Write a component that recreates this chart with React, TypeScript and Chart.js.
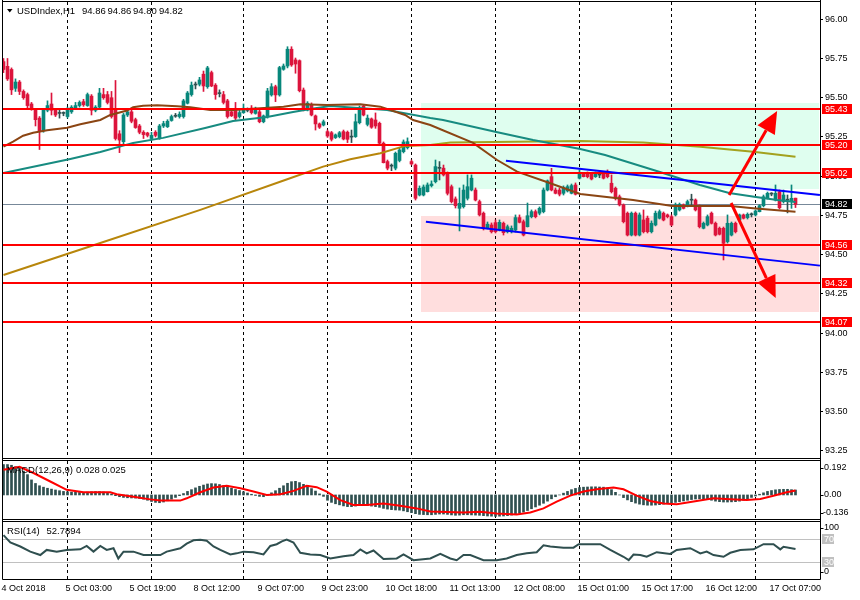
import React, { useEffect, useRef } from 'react';
import { Chart, registerables } from 'chart.js';

Chart.register(...registerables);

const FONT_FAMILY = '"Liberation Sans", Arial, sans-serif';

// ---------------- data ----------------
const symbolTitle = 'USDIndex,H1';

const opens = [
  95.73, 95.70, 95.68, 95.56, 95.60, 95.54, 95.52, 95.46, 95.43, 95.37,
  95.29, 95.42, 95.46, 95.42, 95.40, 95.40, 95.38, 95.41, 95.43, 95.45,
  95.475, 95.45, 95.51, 95.42, 95.44, 95.52, 95.52, 95.50, 95.43, 95.27,
  95.22, 95.39, 95.41, 95.36, 95.32, 95.28, 95.275, 95.24, 95.28, 95.245,
  95.32, 95.315, 95.355, 95.382, 95.38, 95.38, 95.465, 95.52, 95.581, 95.586,
  95.65, 95.57, 95.66, 95.58, 95.528, 95.52, 95.48, 95.41, 95.43, 95.38,
  95.405, 95.421, 95.433, 95.40, 95.41, 95.347, 95.38, 95.518, 95.57, 95.518,
  95.681, 95.702, 95.809, 95.741, 95.736, 95.549, 95.422, 95.454, 95.384, 95.333,
  95.326, 95.284, 95.277, 95.246, 95.252, 95.284, 95.28, 95.251, 95.252, 95.341,
  95.447, 95.33, 95.365, 95.358, 95.337, 95.21, 95.093, 95.066, 95.051, 95.10,
  95.156, 95.182, 95.093, 95.071, 94.88, 94.88, 94.901, 94.94, 94.965, 95.052,
  95.051, 95.012, 94.933, 94.855, 94.795, 94.806, 94.859, 94.912, 94.912, 94.838,
  94.764, 94.672, 94.689, 94.704, 94.657, 94.70, 94.646, 94.646, 94.657, 94.736,
  94.71, 94.678, 94.742, 94.774, 94.764, 94.774, 94.912, 94.997, 94.912, 94.912,
  94.891, 94.906, 94.891, 94.944, 94.987, 95.012, 95.019, 95.012, 94.997, 95.009,
  95.019, 95.029, 94.955, 94.923, 94.869, 94.817, 94.764, 94.625, 94.764, 94.625,
  94.721, 94.732, 94.646, 94.689, 94.732, 94.764, 94.753, 94.742, 94.753, 94.785,
  94.817, 94.812, 94.849, 94.848, 94.806, 94.668, 94.689, 94.764, 94.70, 94.668,
  94.668, 94.583, 94.625, 94.70, 94.721, 94.753, 94.736, 94.756, 94.753, 94.774,
  94.812, 94.859, 94.888, 94.848, 94.901, 94.838, 94.849, 94.838, 94.86,
];

const highs = [
  95.75, 95.75, 95.69, 95.62, 95.61, 95.55, 95.53, 95.47, 95.43, 95.38,
  95.43, 95.48, 95.53, 95.43, 95.42, 95.41, 95.44, 95.45, 95.47, 95.48,
  95.49, 95.53, 95.52, 95.45, 95.56, 95.56, 95.54, 95.54, 95.61, 95.29,
  95.40, 95.43, 95.42, 95.37, 95.33, 95.29, 95.28, 95.28, 95.29, 95.33,
  95.35, 95.36, 95.39, 95.40, 95.41, 95.49, 95.54, 95.60, 95.60, 95.63,
  95.67, 95.70, 95.67, 95.59, 95.55, 95.54, 95.49, 95.42, 95.47, 95.42,
  95.46, 95.435, 95.45, 95.44, 95.42, 95.39, 95.56, 95.59, 95.58, 95.70,
  95.715, 95.825, 95.825, 95.753, 95.741, 95.562, 95.475, 95.467, 95.39, 95.339,
  95.358, 95.294, 95.285, 95.269, 95.285, 95.294, 95.288, 95.294, 95.396, 95.447,
  95.454, 95.39, 95.371, 95.403, 95.345, 95.218, 95.103, 95.078, 95.154, 95.18,
  95.231, 95.244, 95.103, 95.078, 94.938, 94.944, 94.957, 94.97, 95.103, 95.093,
  95.071, 95.027, 94.944, 94.868, 94.925, 94.944, 95.008, 95.008, 94.925, 94.848,
  94.772, 94.708, 94.702, 94.721, 94.721, 94.708, 94.689, 94.683, 94.753, 94.753,
  94.721, 94.829, 94.785, 94.785, 94.804, 94.925, 94.976, 95.05, 94.925, 94.925,
  94.938, 94.944, 94.95, 94.957, 95.04, 95.021, 95.027, 95.021, 95.027, 95.027,
  95.027, 95.04, 95.008, 94.931, 94.88, 94.823, 94.772, 94.772, 94.772, 94.766,
  94.785, 94.746, 94.715, 94.778, 94.785, 94.772, 94.759, 94.753, 94.829, 94.829,
  94.823, 94.848, 94.885, 94.855, 94.817, 94.708, 94.753, 94.772, 94.708, 94.676,
  94.676, 94.753, 94.708, 94.708, 94.759, 94.759, 94.766, 94.766, 94.785, 94.817,
  94.88, 94.899, 94.895, 94.944, 94.912, 94.912, 94.88, 94.944, 94.86,
];

const lows = [
  95.66, 95.61, 95.52, 95.54, 95.52, 95.49, 95.43, 95.42, 95.32, 95.17,
  95.28, 95.41, 95.39, 95.38, 95.37, 95.385, 95.37, 95.40, 95.43, 95.44,
  95.445, 95.445, 95.39, 95.41, 95.43, 95.49, 95.46, 95.37, 95.23, 95.15,
  95.20, 95.38, 95.34, 95.305, 95.27, 95.24, 95.25, 95.23, 95.25, 95.235,
  95.31, 95.31, 95.35, 95.375, 95.37, 95.37, 95.46, 95.51, 95.556, 95.575,
  95.54, 95.56, 95.57, 95.49, 95.505, 95.46, 95.37, 95.38, 95.36, 95.37,
  95.40, 95.41, 95.396, 95.395, 95.34, 95.34, 95.37, 95.51, 95.475, 95.51,
  95.675, 95.69, 95.70, 95.656, 95.537, 95.416, 95.416, 95.384, 95.294, 95.304,
  95.32, 95.247, 95.224, 95.24, 95.244, 95.231, 95.214, 95.214, 95.247, 95.333,
  95.384, 95.32, 95.305, 95.305, 95.205, 95.084, 95.04, 95.035, 95.04, 95.091,
  95.148, 95.173, 95.071, 94.848, 94.874, 94.874, 94.899, 94.931, 94.957, 94.976,
  95.001, 94.88, 94.829, 94.797, 94.651, 94.797, 94.848, 94.906, 94.842, 94.746,
  94.657, 94.664, 94.638, 94.638, 94.651, 94.625, 94.638, 94.638, 94.644, 94.702,
  94.619, 94.676, 94.734, 94.734, 94.753, 94.766, 94.906, 94.906, 94.887, 94.874,
  94.88, 94.899, 94.887, 94.88, 94.982, 94.995, 94.989, 94.976, 94.992, 94.99,
  94.982, 94.989, 94.893, 94.848, 94.81, 94.702, 94.619, 94.619, 94.619, 94.619,
  94.638, 94.638, 94.638, 94.683, 94.727, 94.715, 94.734, 94.683, 94.746, 94.778,
  94.791, 94.804, 94.817, 94.778, 94.67, 94.664, 94.683, 94.695, 94.619, 94.625,
  94.466, 94.574, 94.619, 94.638, 94.715, 94.727, 94.727, 94.74, 94.746, 94.772,
  94.804, 94.855, 94.875, 94.842, 94.791, 94.829, 94.766, 94.795, 94.80,
];

const closes = [
  95.68, 95.62, 95.55, 95.60, 95.54, 95.50, 95.45, 95.43, 95.36, 95.29,
  95.42, 95.45, 95.42, 95.39, 95.40, 95.40, 95.42, 95.44, 95.45, 95.47,
  95.455, 95.52, 95.42, 95.44, 95.53, 95.50, 95.47, 95.38, 95.24, 95.23,
  95.39, 95.41, 95.35, 95.31, 95.28, 95.265, 95.26, 95.26, 95.26, 95.32,
  95.335, 95.35, 95.38, 95.386, 95.395, 95.48, 95.53, 95.58, 95.585, 95.613,
  95.575, 95.69, 95.575, 95.52, 95.526, 95.47, 95.38, 95.385, 95.37, 95.405,
  95.433, 95.419, 95.405, 95.426, 95.347, 95.384, 95.543, 95.57, 95.518, 95.692,
  95.702, 95.809, 95.709, 95.715, 95.545, 95.426, 95.465, 95.39, 95.333, 95.312,
  95.347, 95.256, 95.235, 95.263, 95.277, 95.237, 95.235, 95.249, 95.347, 95.433,
  95.39, 95.37, 95.312, 95.32, 95.21, 95.086, 95.051, 95.064, 95.146, 95.167,
  95.218, 95.22, 95.078, 94.859, 94.923, 94.931, 94.944, 94.95, 95.061, 95.05,
  95.008, 94.891, 94.838, 94.812, 94.827, 94.912, 94.933, 94.987, 94.848, 94.753,
  94.668, 94.694, 94.646, 94.646, 94.706, 94.64, 94.678, 94.668, 94.736, 94.706,
  94.625, 94.748, 94.774, 94.742, 94.795, 94.912, 94.97, 94.912, 94.891, 94.885,
  94.927, 94.933, 94.94, 94.885, 95.019, 94.997, 94.997, 94.982, 95.019, 95.007,
  94.987, 94.997, 94.901, 94.859, 94.817, 94.71, 94.625, 94.764, 94.625, 94.753,
  94.646, 94.646, 94.70, 94.764, 94.774, 94.721, 94.742, 94.689, 94.817, 94.821,
  94.795, 94.838, 94.847, 94.785, 94.678, 94.70, 94.742, 94.70, 94.625, 94.63,
  94.572, 94.70, 94.70, 94.646, 94.753, 94.732, 94.757, 94.754, 94.778, 94.812,
  94.869, 94.891, 94.886, 94.891, 94.799, 94.88, 94.847, 94.859, 94.82,
];

// moving averages: [bar, price]
const maBrown = [
  [0, 95.188], [2.4, 95.22], [4.9, 95.258], [7.4, 95.277], [10.9, 95.293], [15.9, 95.309],
  [19.2, 95.331], [24.2, 95.358], [26.7, 95.39], [30.9, 95.418], [32.4, 95.439], [34.9, 95.449],
  [38.4, 95.452], [43.4, 95.446], [46.7, 95.439], [51.7, 95.422], [57.4, 95.422], [70, 95.443],
  [74.2, 95.458], [80.9, 95.454], [89.2, 95.458], [94.2, 95.443], [100.4, 95.39], [102.4, 95.358],
  [106.7, 95.326], [117.4, 95.212], [123.4, 95.103], [128.4, 95.029], [136.7, 94.955],
  [144.2, 94.887], [157.4, 94.848], [167.2, 94.81], [181.7, 94.81], [187.4, 94.796], [198, 94.774],
];
const maTeal = [
  [0, 95.02], [16.7, 95.11], [24.2, 95.154], [32.4, 95.212], [39.9, 95.244], [50.4, 95.307],
  [57.4, 95.352], [65.9, 95.377], [72.4, 95.409], [76.7, 95.428], [81.7, 95.447], [95.9, 95.422],
  [106.7, 95.371], [109.9, 95.358], [123.2, 95.282], [132.4, 95.231], [144.2, 95.173],
  [150.4, 95.135], [164.1, 95.027], [174.1, 94.944], [181.4, 94.893], [188.1, 94.868],
  [193.4, 94.848], [198, 94.836],
];
const maGold = [
  [0, 94.37], [24.2, 94.574], [49.2, 94.785], [70.4, 94.976], [79.9, 95.061], [86.7, 95.108],
  [94.2, 95.146], [100.4, 95.193], [106.7, 95.199], [111.7, 95.215], [144.2, 95.224],
  [159.9, 95.214], [174.2, 95.188], [187.4, 95.156], [198, 95.124],
];

const levels = [95.43, 95.2, 95.02, 94.56, 94.32, 94.07];
const currentPrice = 94.82;
const priceTicks = [96.0, 95.75, 95.5, 95.25, 95.0, 94.75, 94.5, 94.25, 94.0, 93.75, 93.5, 93.25];

// zones: [start bar, upper price, lower price]
const zoneBuy = [104.4, 95.465, 94.918];
const zoneSell = [104.4, 94.746, 94.136];
// trend lines: [bar, price] pairs
const trendUpper = [[125.6, 95.099], [204.1, 94.88]];
const trendLower = [[105.6, 94.71], [204.1, 94.43]];
// arrows: start, tip
const arrowUp = [[181.4, 94.88], [193.4, 95.415]];
const arrowDown = [[181.9, 94.829], [193.05, 94.223]];

const dayGridBars = [16, 37, 60, 81, 102, 123, 144, 167, 188];
const timeLabelBars = [0, 16, 32, 48, 64, 80, 96, 112, 128, 144, 160, 176, 192];
const timeLabels = [
  '4 Oct 2018', '5 Oct 03:00', '5 Oct 19:00', '8 Oct 12:00', '9 Oct 07:00', '9 Oct 23:00',
  '10 Oct 18:00', '11 Oct 13:00', '12 Oct 08:00', '15 Oct 01:00', '15 Oct 17:00',
  '16 Oct 12:00', '17 Oct 07:00',
];

const macdHist = [
  0.172, 0.172, 0.168, 0.160, 0.150, 0.135, 0.115, 0.085, 0.065, 0.052,
  0.044, 0.038, 0.033, 0.028, 0.024, 0.020, 0.018, 0.016, 0.015, 0.014,
  0.014, 0.016, 0.018, 0.019, 0.019, 0.017, 0.012, 0.005, -0.004, -0.010,
  -0.014, -0.016, -0.017, -0.018, -0.020, -0.024, -0.030, -0.037, -0.042, -0.044,
  -0.040, -0.033, -0.024, -0.014, -0.004, 0.008, 0.020, 0.030, 0.040, 0.049,
  0.056, 0.062, 0.064, 0.063, 0.059, 0.053, 0.046, 0.038, 0.031, 0.025,
  0.018, 0.011, 0.004, -0.003, -0.008, -0.010, -0.002, 0.012, 0.024, 0.038,
  0.052, 0.066, 0.075, 0.077, 0.070, 0.060, 0.048, 0.036, 0.022, 0.006,
  -0.008, -0.030, -0.042, -0.050, -0.056, -0.062, -0.066, -0.066, -0.063, -0.058,
  -0.058, -0.060, -0.063, -0.066, -0.070, -0.076, -0.080, -0.083, -0.085, -0.086,
  -0.090, -0.095, -0.100, -0.106, -0.110, -0.111, -0.112, -0.112, -0.110, -0.108,
  -0.108, -0.110, -0.113, -0.115, -0.114, -0.112, -0.112, -0.113, -0.114, -0.115,
  -0.117, -0.119, -0.120, -0.121, -0.120, -0.119, -0.117, -0.114, -0.110, -0.104,
  -0.097, -0.088, -0.078, -0.068, -0.058, -0.047, -0.035, -0.022, -0.010, 0.000,
  0.010, 0.020, 0.030, 0.037, 0.042, 0.044, 0.045, 0.046, 0.046, 0.045,
  0.044, 0.040, 0.030, 0.015, 0.000, -0.015, -0.028, -0.038, -0.046, -0.052,
  -0.056, -0.058, -0.058, -0.057, -0.055, -0.052, -0.048, -0.045, -0.042, -0.038,
  -0.034, -0.030, -0.026, -0.023, -0.022, -0.022, -0.025, -0.030, -0.035, -0.038,
  -0.040, -0.040, -0.039, -0.038, -0.035, -0.030, -0.022, -0.014, -0.006, 0.004,
  0.012, 0.020, 0.025, 0.029, 0.031, 0.032, 0.032, 0.030, 0.028,
];
const macdSignal = [
  [0, 0.143], [4, 0.159], [7.5, 0.124], [11.7, 0.076], [15.8, 0.029], [20, 0.015], [26.7, 0.015],
  [28.3, 0.004], [32.5, -0.01], [36.7, -0.025], [39.2, -0.032], [44.2, -0.032], [45.8, -0.019],
  [49.2, 0.015], [52.5, 0.042], [55.8, 0.052], [59.2, 0.038], [62.5, 0.019], [65.8, 0],
  [69.2, 0.004], [72.5, 0.023], [75.8, 0.052], [78.3, 0.044], [80.8, 0.019], [84.2, -0.029],
  [87.5, -0.057], [90.8, -0.057], [95, -0.048], [99.2, -0.061], [103.3, -0.076], [106.7, -0.094],
  [115, -0.099], [119.2, -0.095], [123.3, -0.105], [128.3, -0.111], [131.7, -0.099], [135, -0.076],
  [138.3, -0.038], [141.7, -0.004], [145, 0.019], [148.3, 0.032], [152.5, 0.042], [155, 0.032],
  [158.3, -0.004], [161.7, -0.034], [165, -0.048], [168.3, -0.052], [173.3, -0.034],
  [177.5, -0.019], [181.7, -0.025], [185.8, -0.029], [189.2, -0.023], [192.5, -0.004],
  [195.8, 0.015], [198, 0.025],
];
const macdTop = 0.192;
const macdBottom = -0.136;

const rsiPoints = [
  [0, 77], [1.7, 64], [4.2, 57], [6.7, 48], [9.2, 42], [10.8, 51], [13.3, 48], [15.8, 51],
  [19.2, 52], [20.8, 58], [22.5, 48], [24.2, 58], [25.8, 51], [27.5, 54], [28.7, 36], [30, 48],
  [32.5, 48], [35, 42], [39.2, 42], [40.8, 48], [44.2, 54], [45.8, 62], [47.5, 68], [49.2, 69],
  [50.8, 67], [52.5, 57], [54.2, 51], [56.7, 43], [58.3, 45], [60, 48], [62.5, 47], [65, 43],
  [66.7, 58], [68.3, 61], [69.6, 66], [70.8, 69], [72.5, 64], [74.2, 46], [76.7, 43], [79.2, 42],
  [81.7, 36], [85, 40], [87.5, 42], [89.2, 52], [90.8, 45], [92.5, 50], [95, 35], [98.3, 36],
  [100, 43], [102.5, 33], [106.7, 36], [109.2, 44], [111.7, 36], [113.3, 33], [115, 42],
  [116.7, 42], [120, 33], [123.3, 33], [125.8, 36], [128.3, 42], [130.8, 45], [133.3, 47],
  [135, 59], [136.7, 57], [140, 55], [142.5, 55], [143.8, 61], [149.2, 61], [151.7, 51],
  [155, 39], [156.3, 33], [157.5, 43], [159.2, 42], [160.8, 39], [163.3, 47], [166.7, 44],
  [168.3, 51], [171.7, 54], [174.2, 45], [175.8, 48], [177.5, 42], [180, 39], [181.7, 46],
  [184.2, 51], [187.5, 52], [190, 61], [192.5, 61], [194.2, 52], [195, 56.6], [198, 52.7894],
];
const rsiLevels = [70, 30];

// ---------------- styling ----------------
const BULL = '#07877B';
const BEAR = '#DC143C';
const DOJI = '#2F4F4F';
const BROWN = '#8B4513';
const TEAL_MA = '#178B80';
const GOLD = '#B8860B';
const OLIVE = '#A3A11E';
const X_MIN = -0.375;
const X_MAX = 204.125;
const Y_MIN = 93.204;
const Y_MAX = 96.11;

const AX_FONT = { family: FONT_FAMILY, size: 9 };
const txtFont = (s = 9) => `${s}px ${FONT_FAMILY}`;
const toXY = (arr: number[][]) => arr.map(([x, y]) => ({ x, y }));

function drawVGrid(chart: any) {
  const { ctx, chartArea: a, scales } = chart;
  const x = scales.x;
  ctx.save();
  ctx.strokeStyle = '#000';
  ctx.lineWidth = 1;
  ctx.setLineDash([3, 3]);
  for (const b of dayGridBars) {
    const px = Math.floor(x.getPixelForValue(b)) + 0.5;
    ctx.beginPath();
    ctx.moveTo(px, a.top);
    ctx.lineTo(px, a.bottom);
    ctx.stroke();
  }
  ctx.restore();
}

function drawFrame(chart: any, lineBottom: number) {
  const { ctx, chartArea: a } = chart;
  const l = Math.floor(a.left) + 0.5;
  const r = Math.floor(a.right) + 0.5;
  const t = Math.round(a.top) - 0.5;
  const b = Math.round(a.bottom) + 0.5;
  ctx.save();
  ctx.strokeStyle = '#000';
  ctx.lineWidth = 1;
  ctx.setLineDash([]);
  ctx.beginPath();
  ctx.moveTo(l, t); ctx.lineTo(r, t);
  ctx.moveTo(l, b); ctx.lineTo(r, b);
  ctx.moveTo(l, 0); ctx.lineTo(l, lineBottom < 0 ? b : lineBottom);
  ctx.moveTo(r, 0); ctx.lineTo(r, lineBottom < 0 ? b : lineBottom);
  ctx.stroke();
  ctx.restore();
}

function axisText(ctx: any, text: string, x: number, y: number, color = '#000') {
  ctx.fillStyle = color;
  ctx.font = txtFont(9);
  ctx.textAlign = 'left';
  ctx.textBaseline = 'middle';
  ctx.fillText(text, x, y);
}

function tickMark(ctx: any, x: number, y: number) {
  ctx.strokeStyle = '#000';
  ctx.lineWidth = 1;
  ctx.beginPath();
  ctx.moveTo(x, Math.round(y) + 0.5);
  ctx.lineTo(x + 3, Math.round(y) + 0.5);
  ctx.stroke();
}

function priceBox(ctx: any, xLeft: number, yMid: number, text: string, bg: string, fg: string, w = 30) {
  const yy = Math.round(yMid);
  ctx.fillStyle = bg;
  ctx.fillRect(xLeft, yy - 5, w, 10);
  axisText(ctx, text, xLeft + 3, yy + 0.5, fg);
}

function drawArrow(ctx: any, x1: number, y1: number, x2: number, y2: number, color: string) {
  const ang = Math.atan2(y2 - y1, x2 - x1);
  const len = 22;
  const half = 10;
  const bx = x2 - len * Math.cos(ang);
  const by = y2 - len * Math.sin(ang);
  ctx.strokeStyle = color;
  ctx.fillStyle = color;
  ctx.lineWidth = 3;
  ctx.setLineDash([]);
  ctx.beginPath();
  ctx.moveTo(x1, y1);
  ctx.lineTo(bx, by);
  ctx.stroke();
  const nx = -Math.sin(ang);
  const ny = Math.cos(ang);
  ctx.beginPath();
  ctx.moveTo(x2, y2);
  ctx.lineTo(bx + nx * half, by + ny * half);
  ctx.lineTo(bx - nx * half, by - ny * half);
  ctx.closePath();
  ctx.fill();
}

function clipArea(chart: any) {
  const { ctx, chartArea: a } = chart;
  ctx.beginPath();
  ctx.rect(a.left, a.top, a.right - a.left, a.bottom - a.top);
  ctx.clip();
}

const mainPlugin = {
  id: 'mainDecor',
  beforeDatasetsDraw(chart: any) {
    const { ctx, chartArea: a, scales } = chart;
    const { x, y } = scales;
    ctx.save();
    clipArea(chart);
    const zone = (z: number[], color: string) => {
      const x0 = x.getPixelForValue(z[0]);
      const y0 = y.getPixelForValue(z[1]);
      const y1 = y.getPixelForValue(z[2]);
      ctx.fillStyle = color;
      ctx.fillRect(Math.round(x0), Math.round(y0), a.right - 1 - Math.round(x0), Math.round(y1) - Math.round(y0));
    };
    zone(zoneBuy, '#DFFEEF');
    zone(zoneSell, '#FFDEDE');
    const py = Math.round(y.getPixelForValue(currentPrice)) + 0.5;
    ctx.strokeStyle = '#778899';
    ctx.lineWidth = 1;
    ctx.beginPath();
    ctx.moveTo(a.left, py);
    ctx.lineTo(a.right, py);
    ctx.stroke();
    ctx.restore();
    drawVGrid(chart);
  },
  afterDatasetsDraw(chart: any) {
    const { ctx, chartArea: a, scales } = chart;
    const { x, y } = scales;
    ctx.save();
    clipArea(chart);
    ctx.strokeStyle = '#FF0000';
    ctx.lineWidth = 2;
    for (const lv of levels) {
      const py = Math.round(y.getPixelForValue(lv));
      ctx.beginPath();
      ctx.moveTo(a.left, py);
      ctx.lineTo(a.right, py);
      ctx.stroke();
    }
    ctx.strokeStyle = '#0000FF';
    ctx.lineWidth = 2;
    for (const t of [trendUpper, trendLower]) {
      ctx.beginPath();
      ctx.moveTo(x.getPixelForValue(t[0][0]), y.getPixelForValue(t[0][1]));
      ctx.lineTo(x.getPixelForValue(t[1][0]), y.getPixelForValue(t[1][1]));
      ctx.stroke();
    }
    for (const ar of [arrowUp, arrowDown]) {
      drawArrow(
        ctx,
        x.getPixelForValue(ar[0][0]), y.getPixelForValue(ar[0][1]),
        x.getPixelForValue(ar[1][0]), y.getPixelForValue(ar[1][1]),
        '#FF0000'
      );
    }
    ctx.restore();
  },
  afterDraw(chart: any) {
    const { ctx, chartArea: a, scales } = chart;
    const { y } = scales;
    drawFrame(chart, chart.height);
    ctx.save();
    const bx = Math.floor(a.right) + 2;
    for (const lv of levels) {
      priceBox(ctx, bx, y.getPixelForValue(lv), lv.toFixed(2), '#FF0000', '#FFFFFF');
    }
    priceBox(ctx, bx, y.getPixelForValue(currentPrice), currentPrice.toFixed(2), '#000000', '#FFFFFF');
    // title
    ctx.fillStyle = '#000';
    ctx.beginPath();
    ctx.moveTo(7, 9);
    ctx.lineTo(12.5, 9);
    ctx.lineTo(9.75, 12.5);
    ctx.closePath();
    ctx.fill();
    const n = opens.length - 1;
    ctx.font = txtFont(9.5);
    ctx.textBaseline = 'middle';
    ctx.textAlign = 'left';
    ctx.fillText(symbolTitle, 17, 11.5);
    const vals = [opens[n], highs[n], lows[n], closes[n]];
    const xs = [82, 107.5, 133, 159];
    vals.forEach((v, i) => ctx.fillText(v.toFixed(2), xs[i], 11.5));
    ctx.restore();
  },
};

const macdPlugin = {
  id: 'macdDecor',
  beforeDatasetsDraw(chart: any) {
    drawVGrid(chart);
  },
  afterDraw(chart: any) {
    const { ctx, chartArea: a, scales } = chart;
    const { y } = scales;
    drawFrame(chart, chart.height);
    ctx.save();
    const r = Math.floor(a.right) + 0.5;
    const tx = Math.floor(a.right) + 4;
    const yTop = a.top + 7;
    const yZero = y.getPixelForValue(0);
    const yBot = a.bottom - 6.5;
    tickMark(ctx, r, yTop); tickMark(ctx, r, yZero); tickMark(ctx, r, yBot);
    axisText(ctx, macdTop.toFixed(3), tx, yTop);
    axisText(ctx, '0.00', tx, yZero);
    axisText(ctx, macdBottom.toFixed(3), tx - 1, yBot);
    ctx.font = txtFont(9.5);
    ctx.fillStyle = '#000';
    ctx.textBaseline = 'middle';
    ctx.fillText('MACD(12,26,9)', 7, a.top + 9.5);
    ctx.fillText(macdHist[macdHist.length - 1].toFixed(3), 76, a.top + 9.5);
    ctx.fillText(macdSignal[macdSignal.length - 1][1].toFixed(3), 102, a.top + 9.5);
    ctx.restore();
  },
};

const rsiPlugin = {
  id: 'rsiDecor',
  beforeDatasetsDraw(chart: any) {
    const { ctx, chartArea: a, scales } = chart;
    const { y } = scales;
    ctx.save();
    ctx.strokeStyle = '#C0C0C0';
    ctx.lineWidth = 1;
    for (const lv of rsiLevels) {
      const py = Math.round(y.getPixelForValue(lv)) + 0.5;
      ctx.beginPath();
      ctx.moveTo(a.left, py);
      ctx.lineTo(a.right, py);
      ctx.stroke();
    }
    ctx.restore();
    drawVGrid(chart);
  },
  afterDraw(chart: any) {
    const { ctx, chartArea: a, scales } = chart;
    const { y } = scales;
    drawFrame(chart, -1);
    ctx.save();
    const r = Math.floor(a.right) + 0.5;
    const tx = Math.floor(a.right) + 4;
    tickMark(ctx, r, a.top + 6);
    tickMark(ctx, r, a.bottom - 7);
    axisText(ctx, '100', tx, a.top + 6);
    axisText(ctx, '0', tx, a.bottom - 7);
    for (const lv of rsiLevels) {
      const py = Math.round(y.getPixelForValue(lv));
      ctx.fillStyle = '#C0C0C0';
      ctx.fillRect(Math.floor(a.right) + 2, py - 5, 12, 10);
      axisText(ctx, String(lv), tx, py + 0.5, '#FFFFFF');
    }
    ctx.font = txtFont(9.5);
    ctx.fillStyle = '#000';
    ctx.textBaseline = 'middle';
    ctx.fillText('RSI(14)', 7, a.top + 9.5);
    ctx.fillText(rsiPoints[rsiPoints.length - 1][1].toFixed(4), 46.5, a.top + 9.5);
    ctx.restore();
  },
};

const baseOptions = {
  responsive: false,
  animation: false,
  devicePixelRatio: 1,
  events: [],
  plugins: { legend: { display: false }, tooltip: { enabled: false }, title: { display: false } },
};

const hiddenX = { type: 'linear', min: X_MIN, max: X_MAX, display: false, offset: false, grid: { offset: false } };

function candleColor(ctx: any) {
  const i = ctx.dataIndex;
  const d = closes[i] - opens[i];
  if (Math.abs(d) < 0.005) return DOJI;
  return d > 0 ? BULL : BEAR;
}

function mainConfig(): any {
  const bodyData = opens.map((o, i) => ({ x: i, y: [o, closes[i]] }));
  const wickData = lows.map((l, i) => ({ x: i, y: [l, highs[i]] }));
  return {
    type: 'bar',
    data: {
      datasets: [
        { type: 'line', label: 'MA brown', data: toXY(maBrown), borderColor: BROWN, borderWidth: 2, pointRadius: 0, fill: false, tension: 0, order: 1 },
        { type: 'line', label: 'MA teal', data: toXY(maTeal), borderColor: TEAL_MA, borderWidth: 2, pointRadius: 0, fill: false, tension: 0, order: 2 },
        {
          type: 'line', label: 'MA gold', data: toXY(maGold), borderColor: GOLD, borderWidth: 2, pointRadius: 0, fill: false, tension: 0, order: 3,
          segment: { borderColor: (c: any) => (c.p0.parsed.x >= zoneBuy[0] ? OLIVE : GOLD) },
        },
        { type: 'bar', label: 'body', data: bodyData, backgroundColor: candleColor, barThickness: 3, grouped: false, minBarLength: 1, order: 4 },
        { type: 'bar', label: 'wick', data: wickData, backgroundColor: candleColor, barThickness: 1, grouped: false, order: 5 },
      ],
    },
    options: {
      ...baseOptions,
      layout: { padding: { left: 2, right: 0, top: 2, bottom: 2 } },
      scales: {
        x: hiddenX,
        y: {
          type: 'linear',
          position: 'right',
          min: Y_MIN,
          max: Y_MAX,
          beginAtZero: false,
          afterBuildTicks: (s: any) => { s.ticks = priceTicks.map((v) => ({ value: v })); },
          afterFit: (s: any) => { s.width = 40; s.paddingTop = 0; s.paddingBottom = 0; },
          ticks: { autoSkip: false, color: '#000', font: AX_FONT, padding: 2, callback: (v: any) => Number(v).toFixed(2) },
          grid: { drawOnChartArea: false, drawTicks: true, tickLength: 3, color: '#000' },
          border: { display: false },
        },
      },
    },
    plugins: [mainPlugin],
  };
}

function macdConfig(): any {
  return {
    type: 'bar',
    data: {
      datasets: [
        { type: 'line', label: 'signal', data: toXY(macdSignal), borderColor: '#FF0000', borderWidth: 2, pointRadius: 0, fill: false, tension: 0, order: 1 },
        { type: 'bar', label: 'macd', data: macdHist.map((v, i) => ({ x: i, y: [0, v] })), backgroundColor: '#2F4F4F', barThickness: 2, grouped: false, order: 2 },
      ],
    },
    options: {
      ...baseOptions,
      layout: { padding: { left: 2, right: 40, top: 1, bottom: 1 } },
      scales: {
        x: hiddenX,
        y: { type: 'linear', display: false, min: macdBottom, max: macdTop, beginAtZero: false },
      },
    },
    plugins: [macdPlugin],
  };
}

function rsiConfig(): any {
  return {
    type: 'line',
    data: {
      datasets: [
        { label: 'RSI', data: toXY(rsiPoints), borderColor: '#2F4F4F', borderWidth: 2, pointRadius: 0, fill: false, tension: 0 },
      ],
    },
    options: {
      ...baseOptions,
      layout: { padding: { left: 2, right: 40, top: 2, bottom: 0 } },
      scales: {
        x: {
          type: 'linear',
          min: X_MIN,
          max: X_MAX,
          offset: false,
          position: 'bottom',
          afterBuildTicks: (s: any) => { s.ticks = timeLabelBars.map((v) => ({ value: v })); },
          afterFit: (s: any) => { s.height = 21; s.paddingLeft = 0; s.paddingRight = 0; },
          ticks: {
            autoSkip: false, maxRotation: 0, minRotation: 0, align: 'start', labelOffset: -2, padding: -4,
            color: '#000', font: AX_FONT,
            callback: (_v: any, i: number) => timeLabels[i],
          },
          grid: { display: false },
          border: { display: false },
        },
        y: { type: 'linear', display: false, min: 0, max: 100 },
      },
    },
    plugins: [rsiPlugin],
  };
}

export default function App() {
  const mainRef = useRef<HTMLCanvasElement>(null);
  const macdRef = useRef<HTMLCanvasElement>(null);
  const rsiRef = useRef<HTMLCanvasElement>(null);

  useEffect(() => {
    const charts = [
      new Chart(mainRef.current as HTMLCanvasElement, mainConfig()),
      new Chart(macdRef.current as HTMLCanvasElement, macdConfig()),
      new Chart(rsiRef.current as HTMLCanvasElement, rsiConfig()),
    ];
    return () => charts.forEach((c) => c.destroy());
  }, []);

  const abs = (top: number, h: number): any => ({ position: 'absolute', left: 0, top, width: 860, height: h, display: 'block' });

  return (
    <div style={{ position: 'fixed', left: 0, top: 0, width: 860, height: 600, background: '#FFFFFF', overflow: 'hidden' }}>
      <canvas ref={mainRef} width={860} height={460} style={abs(0, 460)} />
      <canvas ref={macdRef} width={860} height={60} style={abs(460, 60)} />
      <canvas ref={rsiRef} width={860} height={80} style={abs(520, 80)} />
    </div>
  );
}
